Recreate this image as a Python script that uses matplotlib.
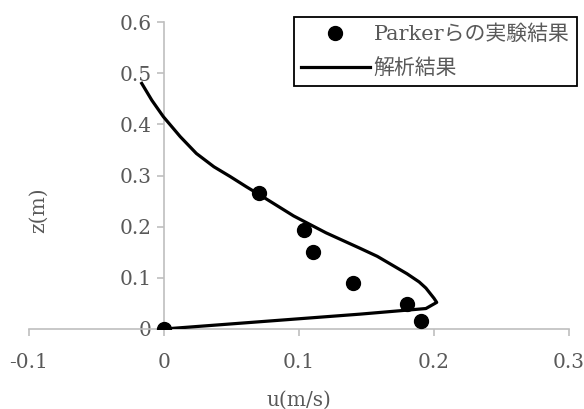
import matplotlib.pyplot as plt

# experimental data (Parker et al.)
exp_u = [0, 0.07, 0.104, 0.11, 0.14, 0.18, 0.19]
exp_z = [0, 0.265, 0.194, 0.15, 0.09, 0.048, 0.015]

# analytical result
calc_u = [-0.0165, -0.009, -0.0005, 0.012, 0.024, 0.037, 0.049, 0.061, 0.071,
          0.096, 0.12, 0.145, 0.158, 0.169, 0.18, 0.189, 0.194, 0.197, 0.2,
          0.202, 0.194, 0.145, 0]
calc_z = [0.48, 0.447, 0.415, 0.376, 0.343, 0.317, 0.298, 0.278, 0.262,
          0.221, 0.188, 0.158, 0.142, 0.125, 0.108, 0.092, 0.08, 0.07, 0.06,
          0.052, 0.040, 0.029, 0]

xticks = [-0.1, 0, 0.1, 0.2, 0.3]
xticklabels = ["-0.1", "0", "0.1", "0.2", "0.3"]
yticks = [0, 0.1, 0.2, 0.3, 0.4, 0.5, 0.6]
yticklabels = ["0", "0.1", "0.2", "0.3", "0.4", "0.5", "0.6"]

fam = ["DejaVu Serif", "Noto Sans CJK JP"]
plt.rcParams["font.family"] = fam
txt = "#595959"
grey = "#BFBFBF"

fig = plt.figure(figsize=(5.84, 4.09), dpi=100)
ax = fig.add_axes([29 / 584, 80 / 409, 540 / 584, 307 / 409])

ax.plot(calc_u, calc_z, color="black", lw=2.3, label="解析結果", zorder=3,
        solid_joinstyle="round")
ax.plot(exp_u, exp_z, "o", color="black", ms=10, label="Parkerらの実験結果", zorder=4)

ax.set_xlim(-0.1, 0.3)
ax.set_ylim(0, 0.6)
ax.spines["top"].set_visible(False)
ax.spines["right"].set_visible(False)
ax.spines["left"].set_position(("data", 0))
for s in ["left", "bottom"]:
    ax.spines[s].set_color(grey)
    ax.spines[s].set_linewidth(1.2)
ax.set_xticks(xticks)
ax.set_xticklabels(xticklabels)
ax.set_yticks(yticks)
ax.set_yticklabels(yticklabels)
ax.tick_params(axis="both", colors=grey, labelcolor=txt, labelsize=14.5,
               length=5, width=1.2, direction="out")
ax.tick_params(axis="x", pad=12)
ax.tick_params(axis="y", pad=4)

ax.set_xlabel("u(m/s)", color=txt, fontsize=14.5, labelpad=14)
fig.text(38 / 584, 1 - 210 / 409, "z(m)", rotation=90, color=txt, fontsize=14.5,
         ha="center", va="center")

h, l = ax.get_legend_handles_labels()
leg = ax.legend(h[::-1], l[::-1], loc="upper right",
                bbox_to_anchor=(577 / 584, 1 - 17 / 409),
                bbox_transform=fig.transFigure,
                fontsize=15, frameon=True, fancybox=False, edgecolor="black",
                framealpha=1, handlelength=3.3, handletextpad=0.2,
                borderpad=0.35, labelspacing=0.7, borderaxespad=0)
leg.get_frame().set_linewidth(1.3)
for t in leg.get_texts():
    t.set_color(txt)

fig.savefig("out.png", dpi=100)
